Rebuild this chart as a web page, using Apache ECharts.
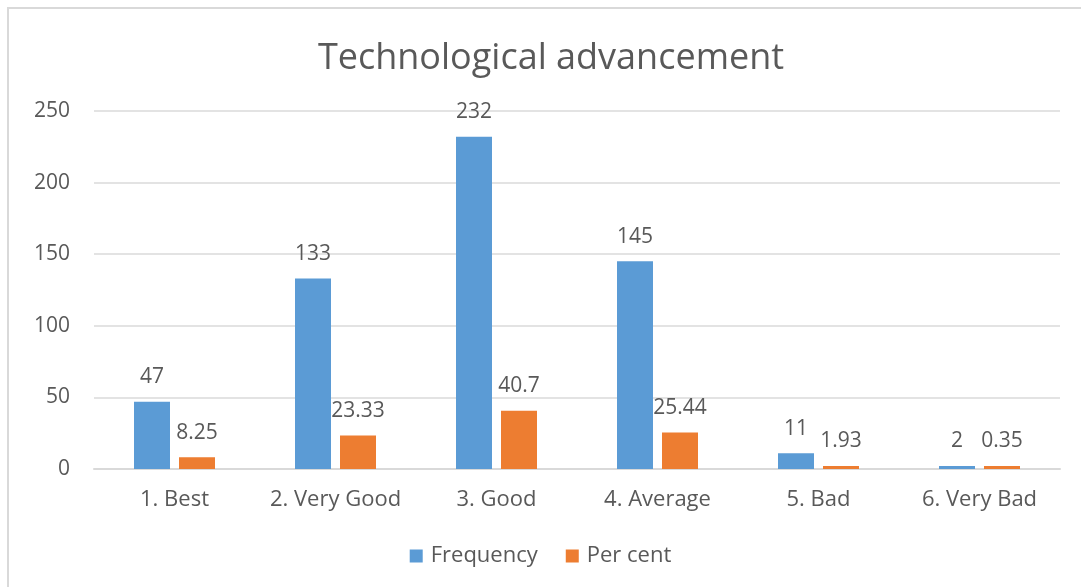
<!DOCTYPE html>
<html><head><meta charset="utf-8">
<script src="https://cdn.jsdelivr.net/npm/echarts@6/dist/echarts.min.js"></script>
<style>
html,body{margin:0;padding:0;background:#fff;}
#frame{position:absolute;left:7px;top:7px;width:1080px;height:590px;border:2px solid #d9d9d9;box-sizing:border-box;}
#c{position:absolute;left:0;top:0;width:1081px;height:587px;}
</style></head>
<body>
<div id="frame"></div>
<div id="c"></div>
<script>
const categories = ['1. Best','2. Very Good','3. Good','4. Average','5. Bad','6. Very Bad'];
const frequency = [47,133,232,145,11,2];
const perCent = [8.25,23.33,40.7,25.44,1.93,0.35];
const yTicks = [0,50,100,150,200,250];

const chart = echarts.init(document.getElementById('c'));
const txt = '#595959';
const font = 'Open Sans';
chart.setOption({
  animation:false,
  title:{text:'Technological advancement',left:546,textAlign:'center',top:36,
    textStyle:{fontFamily:font,fontSize:36,fontWeight:'normal',color:txt}},
  grid:{left:94,right:21,top:111,bottom:118},
  legend:{bottom:15,left:'center',itemWidth:13,itemHeight:13,itemGap:28,icon:'rect',
    textStyle:{fontFamily:font,fontSize:22,color:txt,padding:[0,0,0,3]}},
  xAxis:{type:'category',data:categories,
    axisLine:{lineStyle:{color:'#d9d9d9',width:2}},axisTick:{show:false},
    axisLabel:{interval:0,fontFamily:font,fontSize:22,color:txt,margin:20}},
  yAxis:{type:'value',min:yTicks[0],max:yTicks[yTicks.length-1],interval:yTicks[1]-yTicks[0],
    axisLine:{show:false},axisTick:{show:false},
    splitLine:{lineStyle:{color:'#e3e3e3',width:2}},
    axisLabel:{fontFamily:font,fontSize:21,color:txt,margin:24}},
  series:[
    {name:'Frequency',type:'bar',data:frequency,barWidth:36,barGap:'25%',barMinHeight:3,
      itemStyle:{color:'#5b9bd5'},
      label:{show:true,position:'top',distance:14,fontFamily:font,fontSize:21,color:txt}},
    {name:'Per cent',type:'bar',data:perCent,barWidth:36,barMinHeight:3,
      itemStyle:{color:'#ed7d31'},
      label:{show:true,position:'top',distance:14,fontFamily:font,fontSize:21,color:txt}}
  ]
});
</script>
</body></html>
